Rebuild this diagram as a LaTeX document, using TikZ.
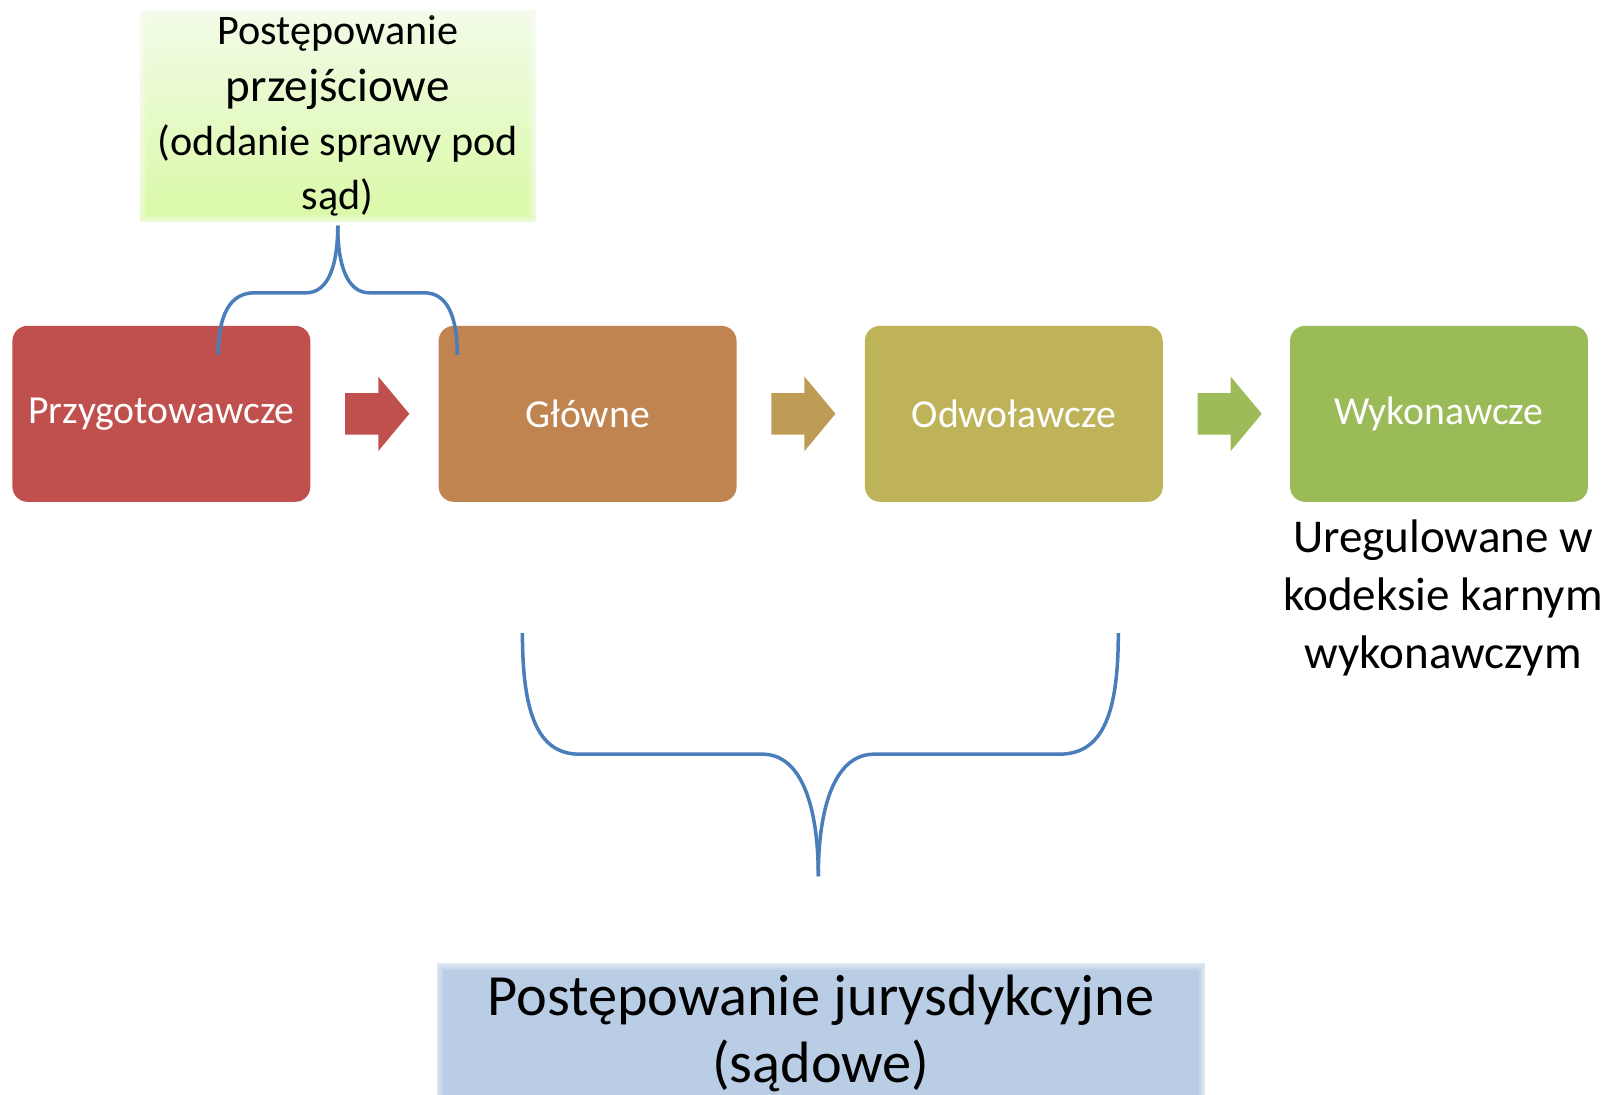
\documentclass[tikz,border=0pt]{standalone}
\usepackage{fontspec}
\setmainfont{Carlito}
\usetikzlibrary{calc}
\definecolor{przRed}{HTML}{C0504D}
\definecolor{gloBrown}{HTML}{BF8450}
\definecolor{odwOlive}{HTML}{BFB35A}
\definecolor{wykGreen}{HTML}{9BBB59}
\definecolor{arrA}{HTML}{C0504D}
\definecolor{arrB}{HTML}{BF9C55}
\definecolor{arrC}{HTML}{9DBB59}
\definecolor{braceBlue}{HTML}{4A7EBB}
\definecolor{noteTop}{HTML}{F2FBE8}
\definecolor{noteBot}{HTML}{DAF9A6}
\definecolor{sadBlue}{HTML}{B9CDE5}

\begin{document}
\begin{tikzpicture}[x=0.1035mm,y=-0.1035mm,
	stage/.style={rectangle, rounded corners=1.5mm, minimum width=29.8mm, minimum height=17.6mm,
		text=white, font=\fontsize{11.3}{13.5}\selectfont},
	brace/.style={draw=braceBlue, line width=1pt}]

\useasboundingbox (0,0) rectangle (1565,1058);

%----------------------------
% Top: transitional stage
%----------------------------
\node[shade, top color=noteTop, bottom color=noteBot, minimum width=39.6mm, minimum height=21.1mm,
	inner ysep=0pt, align=center, font=\fontsize{12}{15.3}\selectfont] (przej) at (326.5,112)
	{Postępowanie\\[1pt] {\fontsize{13.4}{15.3}\selectfont przejściowe}\\ (oddanie sprawy pod\\ sąd)};
\foreach \w in {1,2,3,4}
	\draw[white, opacity=0.18, line width=\w pt] (przej.south west) rectangle (przej.north east);

%----------------------------
% Middle: the four stages
%----------------------------
\node[stage, fill=przRed] (prz) at (156,400) {Przygotowawcze};
\node[stage, fill=gloBrown] (glo) at (568,400) {Główne};
\node[stage, fill=odwOlive] (odw) at (980,400) {Odwoławcze};
\node[stage, fill=wykGreen] (wyk) at (1391,400) {Wykonawcze};

% block arrows between stages
\foreach \a/\b in {prz/arrA, glo/arrB, odw/arrC}
	\fill[\b] ($(\a.east)+(33,-20)$) -- ++(32,0) -- ++(0,-16) -- ++(30,36)
	-- ++(-30,36) -- ++(0,-16) -- ++(-32,0) -- cycle;

% note under the last stage
\node[align=center, font=\fontsize{13.4}{16.5}\selectfont] (uregul) at (1395,578)
	{Uregulowane w\\ kodeksie karnym\\ wykonawczym};

%----------------------------
% Braces
%----------------------------
\coordinate (tl) at (211,343);
\coordinate (tr) at (442,343);
\coordinate (tt) at (326.5,218);
\draw[brace] (tl) .. controls (211,305) and (222,283) .. (246,283)
	-- (296,283) .. controls (318,283) and (326.5,255) .. (tt);
\draw[brace] (tt) .. controls (326.5,255) and (335,283) .. (357,283)
	-- (410,283) .. controls (432,283) and (442,305) .. (tr);

\coordinate (bl) at (505,612);
\coordinate (br) at (1081,612);
\coordinate (bt) at (791,847);
\draw[brace] (bl) .. controls (505,690) and (520,729) .. (560,729)
	-- (737,729) .. controls (775,729) and (791,780) .. (bt);
\draw[brace] (bt) .. controls (791,780) and (807,729) .. (845,729)
	-- (1024,729) .. controls (1066,729) and (1081,690) .. (br);

%----------------------------
% Bottom: jurisdictional proceedings
%----------------------------
\node[fill=sadBlue, minimum width=76.9mm, minimum height=14mm, align=center,
	font=\fontsize{16.6}{19.1}\selectfont] (jurys) at (793.5,999)
	{Postępowanie jurysdykcyjne\\ (sądowe)};
\foreach \w in {1,2,3,4}
	\draw[white, opacity=0.18, line width=\w pt] (jurys.south west) rectangle (jurys.north east);

\end{tikzpicture}
\end{document}
